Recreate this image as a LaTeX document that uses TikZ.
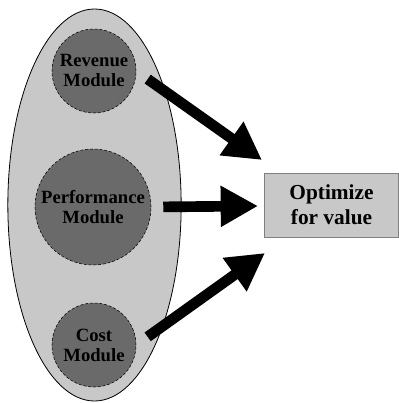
\documentclass[tikz,border=0pt]{standalone}
\usepackage{fontspec}
\setmainfont{Liberation Serif}
\usepackage{tikz}
\usetikzlibrary{shapes.geometric, arrows.meta, positioning}

\definecolor{lightgrey}{HTML}{C8C8C8}
\definecolor{darkgrey}{HTML}{6A6A6A}

\begin{document}
\begin{tikzpicture}
        [
            x=0.75pt, y=-0.75pt,
            group/.style={ellipse, draw, fill=lightgrey, line width=0.6pt,
                          inner sep=0pt, minimum width=130pt, minimum height=294pt},
            module/.style={circle, draw, dashed, dash pattern=on 2.2pt off 1.4pt,
                           fill=darkgrey, inner sep=0pt, minimum size=#1,
                           align=center, font=\fontsize{14}{15}\selectfont\bfseries},
            goal/.style={rectangle, draw=gray, fill=lightgrey, line width=0.6pt,
                         minimum width=100pt, minimum height=48pt, align=center,
                         font=\fontsize{16}{18.75}\selectfont\bfseries},
            fat/.style={line width=8pt, -{Triangle[length=28pt, width=29pt]}}
        ]
        \useasboundingbox (0,0) rectangle (399,403);
        \node (G) [group] at (94.5,205) {};
        \node (rev) [module=63pt] at (94,71) {Revenue\\Module};
        \node (perf) [module=87pt] at (93,207) {Performance\\Module};
        \node (cost) [module=63pt] at (94,345) {Cost\\Module};
        \node (opt) [goal] at (331.5,205) {Optimize\\for value};
        \coordinate (t1) at (262,160);
        \coordinate (t2) at (258,206);
        \coordinate (t3) at (265,253);
        \foreach \i/\j/\s in {rev/t1/10.5pt, perf/t2/9pt, cost/t3/10.5pt}
            \draw [fat, shorten <=\s] (\i.east) -- (\j);
    \end{tikzpicture}
\end{document}
